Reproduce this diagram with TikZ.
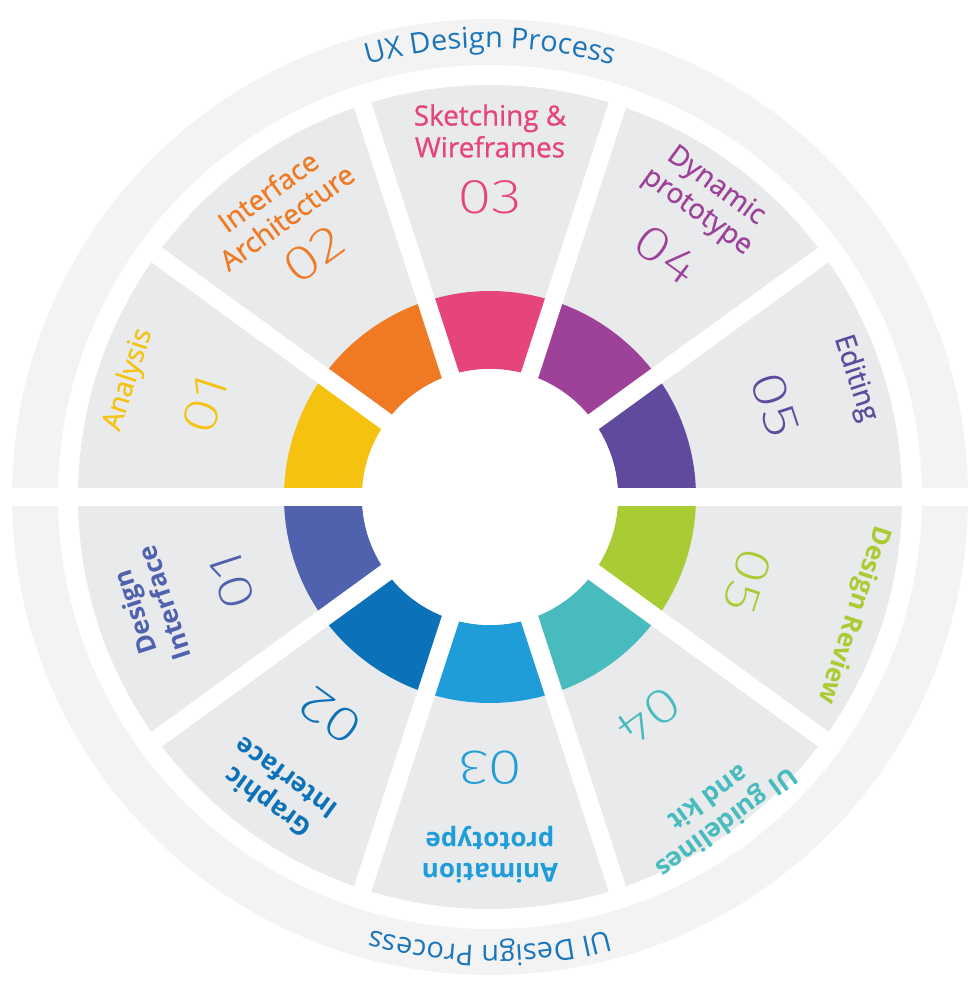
\documentclass[tikz,border=0pt]{standalone}
\usepackage{fontspec}
\setmainfont{Open Sans}
\newfontfamily\uxfont{Open Sans}[FakeBold=0.7]
\newfontfamily\numfont{Fira Sans ExtraLight}
\usetikzlibrary{decorations.text}
\definecolor{bandgray}{HTML}{F3F3F3}
\definecolor{secgray}{HTML}{E9EAEB}
\definecolor{procblue}{HTML}{1A75BB}
% upper half (UX)
\definecolor{colAna}{HTML}{F5C30F}
\definecolor{colIa}{HTML}{EF7A23}
\definecolor{colSw}{HTML}{E6457A}
\definecolor{colDp}{HTML}{9E4299}
\definecolor{colEd}{HTML}{5F4A9E}
% lower half (UI)
\definecolor{colDi}{HTML}{5062AD}
\definecolor{colGi}{HTML}{0B71B8}
\definecolor{colAp}{HTML}{1E9DD9}
\definecolor{colUg}{HTML}{47BBBD}
\definecolor{colDr}{HTML}{A9CC35}

\begin{document}
\begin{tikzpicture}[
		x=1bp, y=1bp,
		gap/.style={white,line width=18bp},
		lbl/.style={align=center,inner sep=0pt,font=\uxfont\fontsize{28}{32}\selectfont},
		lblb/.style={lbl,font=\bfseries\fontsize{26}{31}\selectfont},
		num/.style={inner sep=0pt,font=\numfont\fontsize{49}{49}\selectfont},
		arctext/.style={decorate,decoration={text along path,text align=center,text color=procblue}}
	]
	\useasboundingbox (-490,-496) rectangle (490,497);

	% Outer band and grey sectors
	\fill[bandgray,even odd rule] (0,0) circle[radius=478] (0,0) circle[radius=432];
	\fill[secgray] (0,0) circle[radius=412];

	% Coloured ring
	\foreach \a/\c in {162/colAna,126/colIa,90/colSw,54/colDp,18/colEd,198/colDi,234/colGi,270/colAp,306/colUg,342/colDr}
	\fill[\c] (\a-18:206) arc[start angle=\a-18,end angle=\a+18,radius=206]
	-- (\a+18:128) arc[start angle=\a+18,end angle=\a-18,radius=128] -- cycle;

	% White gaps
	\foreach \a in {36,72,108,144,216,252,288,324} \draw[gap] (0,0) -- (\a:416);
	\draw[gap,line width=17bp] (-491,0) -- (491,0);
	\fill[white] (0,0) circle[radius=128];

	% Titles along the band
	\path[arctext,decoration={text={|\fontsize{29}{29}\selectfont|UX Design Process}}]
	(120:449) arc[start angle=120,end angle=60,radius=449];
	\path[arctext,decoration={text={|\fontsize{29}{29}\selectfont|UI Design Process}}]
	(300:449) arc[start angle=300,end angle=240,radius=449];

	% UX steps
	\foreach \a/\c/\t/\n/\r in {162/colAna/Analysis/01/380,126/colIa/{Interface\\Architecture}/02/362,
			90/colSw/{Sketching \&\\Wireframes}/03/366,54/colDp/{Dynamic\\prototype}/04/368,18/colEd/Editing/05/384}{
		\node[lbl,text=\c,rotate=\a-90] (ux\n) at (\a:\r) {\t};
		\node[num,text=\c,rotate=\a-90] (uxn\n) at (\a:300) {\scalebox{1.3}[1]{\n}};
	}

	% UI steps
	\foreach \a/\c/\t/\n/\r in {198/colDi/{Design\\Interface}/01/358,234/colGi/{Graphic\\Interface}/02/363,
			270/colAp/{Animation\\prototype}/03/358,306/colUg/{UI guidelines\\and kit}/04/388,342/colDr/{Design Review}/05/382}{
		\node[lblb,text=\c,rotate=\a-90] (ui\n) at (\a:\r) {\t};
		\node[num,text=\c,rotate=\a-90] (uin\n) at (\a:271) {\scalebox{1.3}[1]{\n}};
	}

\end{tikzpicture}
\end{document}
